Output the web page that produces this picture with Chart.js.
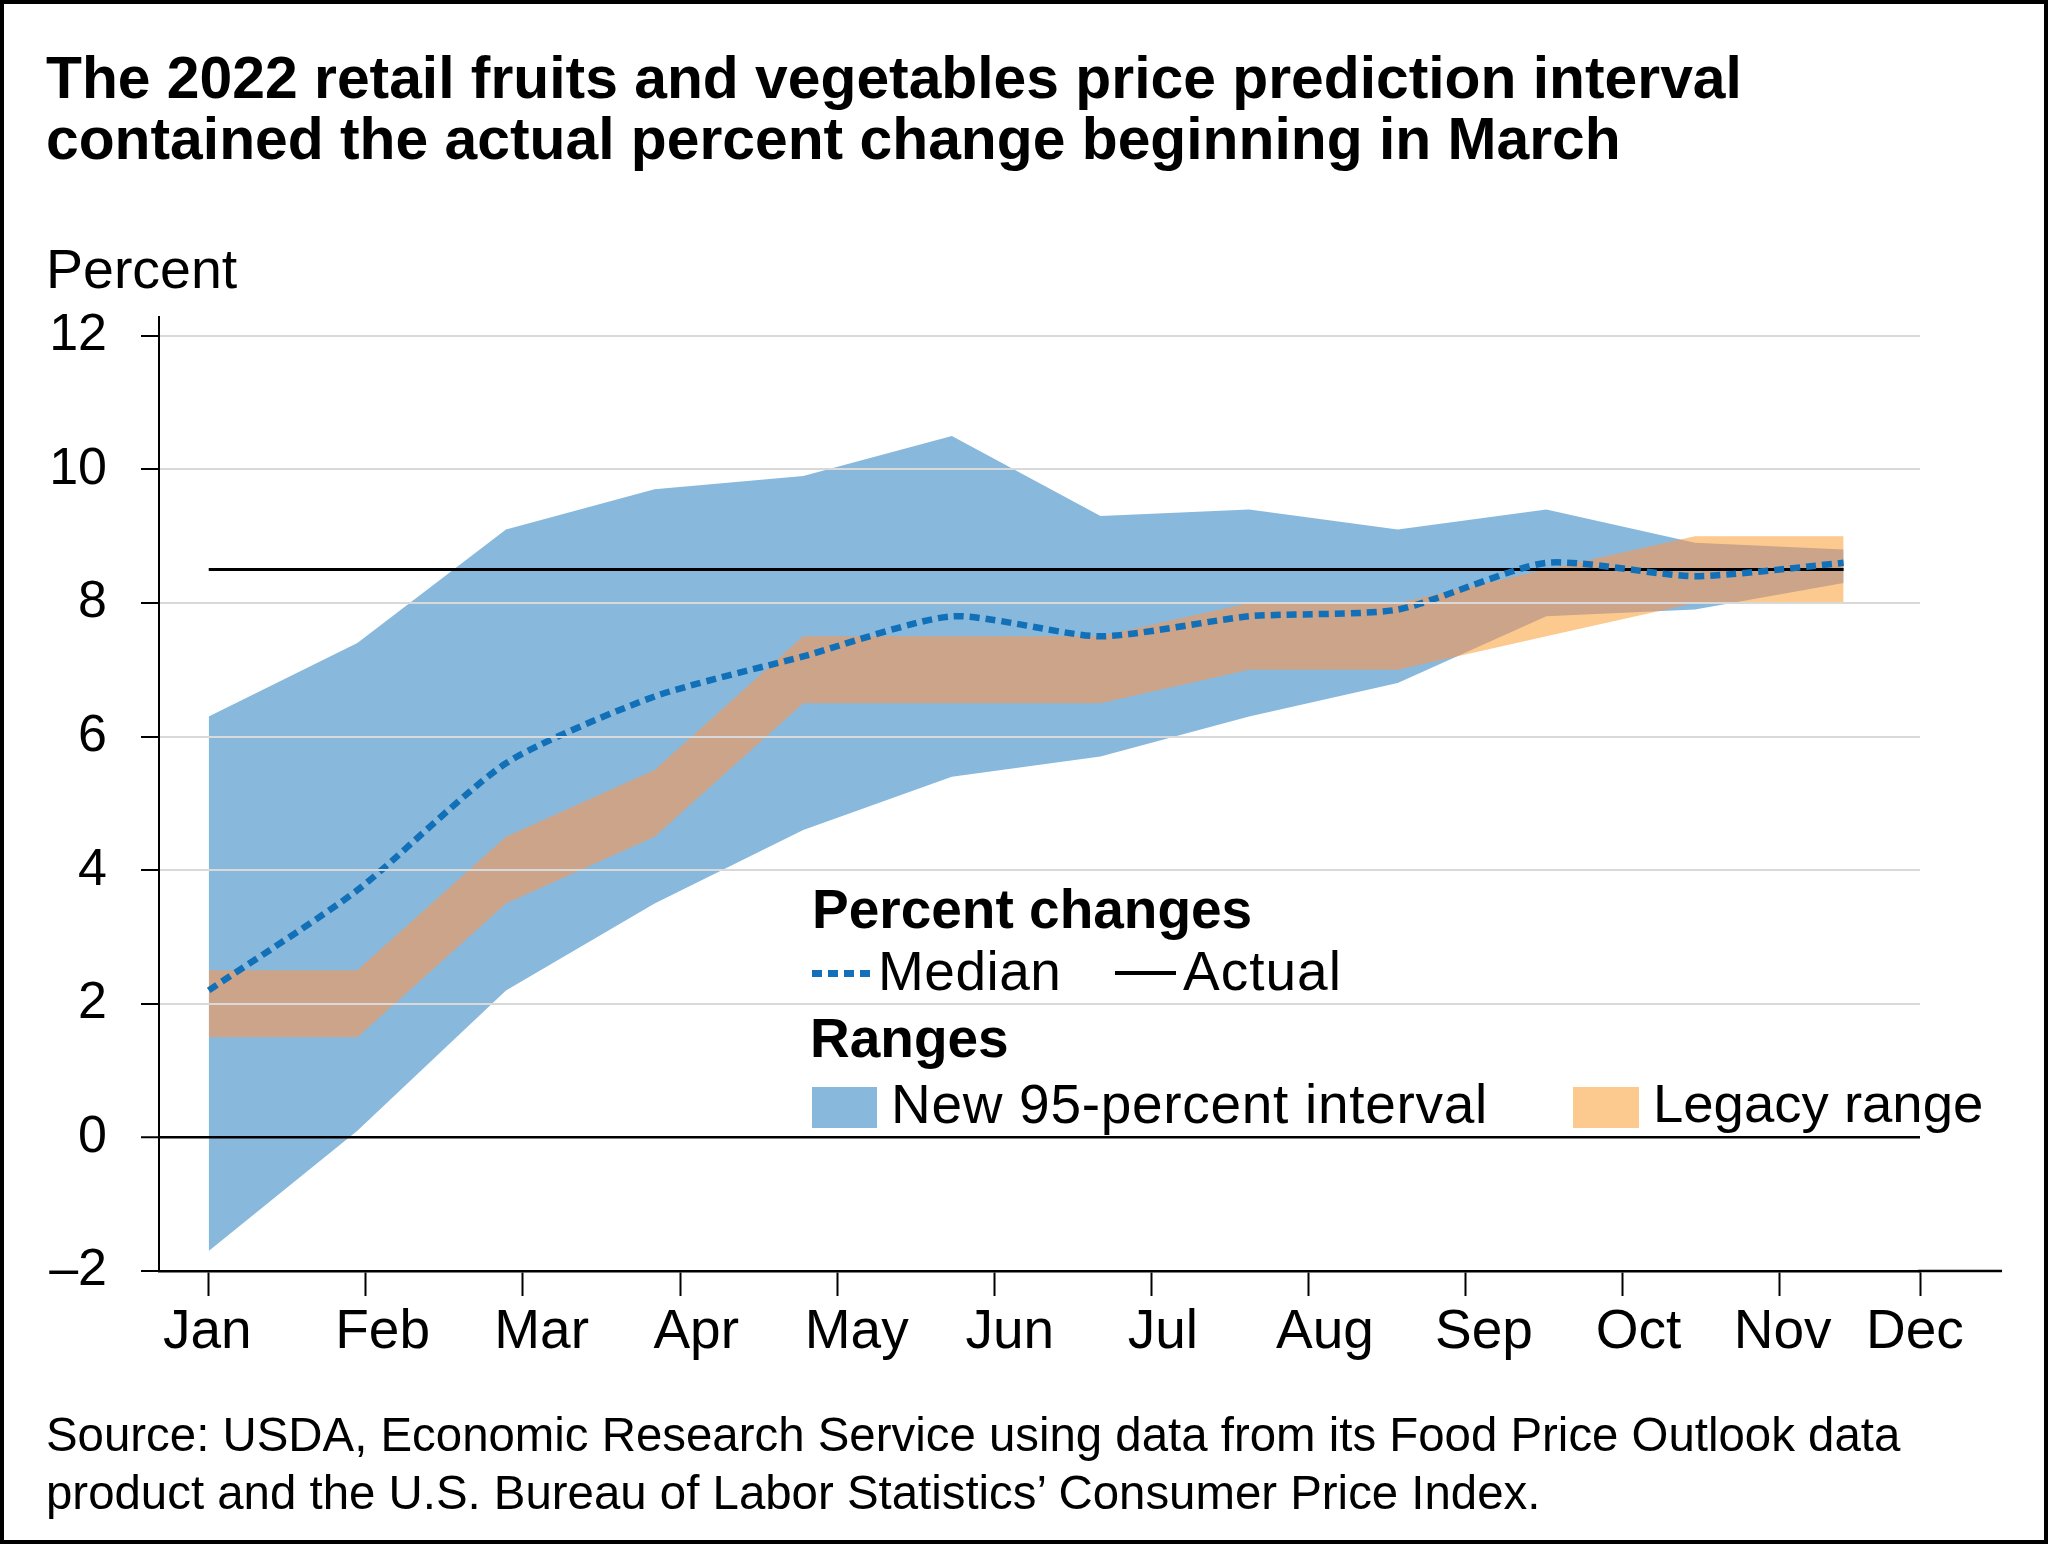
<!DOCTYPE html>
<html><head><meta charset="utf-8">
<script src="https://cdn.jsdelivr.net/npm/chart.js@4.4.1/dist/chart.umd.min.js"></script>
<style>
html,body{margin:0;padding:0;background:#fff;}
#wrap{position:relative;width:2048px;height:1544px;overflow:hidden;background:#fff;font-family:'Liberation Sans',Arial,sans-serif;color:#000;}
#frame{position:absolute;left:0;top:0;width:2048px;height:1544px;box-sizing:border-box;border:4px solid #000;pointer-events:none;z-index:5;}
canvas{position:absolute;left:0;top:0;}
.t{position:absolute;white-space:nowrap;line-height:1;z-index:3;}
.b{font-weight:bold;}
.sw{position:absolute;z-index:3;}
</style></head><body>
<div id="wrap">
<canvas id="c" width="2048" height="1544"></canvas>
<div class="t b" style="left:46px;top:47px;font-size:58.8px;line-height:61px;">The 2022 retail fruits and vegetables price prediction interval<br>contained the actual percent change beginning in March</div>
<div class="t" style="left:46px;top:242px;font-size:55.5px;">Percent</div>

<div class="t b" style="left:812px;top:882px;font-size:55px;">Percent changes</div>
<div class="sw" style="left:812px;top:970px;width:58px;height:7px;background:repeating-linear-gradient(to right,#1170b8 0 10px,transparent 10px 16px);"></div>
<div class="t" style="left:878px;top:944px;font-size:55px;letter-spacing:0.5px;">Median</div>
<div class="sw" style="left:1115px;top:971px;width:61px;height:4px;background:#000;"></div>
<div class="t" style="left:1183px;top:944px;font-size:55px;letter-spacing:1px;">Actual</div>
<div class="t b" style="left:810px;top:1011px;font-size:55px;">Ranges</div>
<div class="sw" style="left:812px;top:1087px;width:65px;height:41px;background:#88b9dd;"></div>
<div class="t" style="left:891px;top:1077px;font-size:55px;letter-spacing:0.7px;">New 95-percent interval</div>
<div class="sw" style="left:1573px;top:1087px;width:66px;height:41px;background:#fcc98e;"></div>
<div class="t" style="left:1653px;top:1077px;font-size:54.5px;">Legacy range</div>

<div class="t" style="left:46px;top:1406px;font-size:47.4px;line-height:58px;">Source: USDA, Economic Research Service using data from its Food Price Outlook data<br>product and the U.S. Bureau of Labor Statistics’ Consumer Price Index.</div>
<div id="frame"></div>
</div>
<script>
// ---- data ----
const MONTHS = ['Jan','Feb','Mar','Apr','May','Jun','Jul','Aug','Sep','Oct','Nov','Dec'];
const MEDIAN = [2.2, 3.7, 5.6, 6.6, 7.2, 7.8, 7.5, 7.8, 7.9, 8.6, 8.4, 8.6];
const ACTUAL = [8.5, 8.5, 8.5, 8.5, 8.5, 8.5, 8.5, 8.5, 8.5, 8.5, 8.5, 8.5];
const NEW_UPPER = [6.3, 7.4, 9.1, 9.7, 9.9, 10.5, 9.3, 9.4, 9.1, 9.4, 8.9, 8.8];
const NEW_LOWER = [-1.7, 0.1, 2.2, 3.5, 4.6, 5.4, 5.7, 6.3, 6.8, 7.8, 7.9, 8.3];
const LEGACY_UPPER = [2.5, 2.5, 4.5, 5.5, 7.5, 7.5, 7.5, 8.0, 8.0, 8.5, 9.0, 9.0];
const LEGACY_LOWER = [1.5, 1.5, 3.5, 4.5, 6.5, 6.5, 6.5, 7.0, 7.0, 7.5, 8.0, 8.0];
const Y_TICKS = [-2, 0, 2, 4, 6, 8, 10, 12];
const Y_TICK_LABELS = ['–2', '0', '2', '4', '6', '8', '10', '12'];

// ---- layout (axis geometry, in data-index units) ----
const MONTH_STEP = 1.0572;
const DEC_TICK = 11.514;
const X_MIN = -0.3345;
const MONTH_TICK_POS = MONTHS.map((m, j) => j === MONTHS.length - 1 ? DEC_TICK : j * MONTH_STEP);
const MONTH_LABEL_POS = [-0.01, 1.17, 2.24, 3.28, 4.36, 5.39, 6.42, 7.51, 8.58, 9.62, 10.59, 11.48];

const BLUE = '#88b9dd', ORANGE = '#fcc98e', TAN = '#cba489', MEDBLUE = '#1170b8';
const FONT = "'Liberation Sans', Arial, sans-serif";

const xy = arr => arr.map((v, i) => ({x: i, y: v}));

const blendPlugin = {
  id: 'bandBlend',
  beforeDatasetDraw(chart) { chart.ctx.globalCompositeOperation = 'source-over'; },
  afterDatasetDraw(chart, args) {
    const id = chart.data.datasets[args.index].id;
    if (id === 'legacyLow') chart.ctx.globalCompositeOperation = 'source-atop';
    else if (id === 'legacyOverlap') chart.ctx.globalCompositeOperation = 'destination-over';
    else chart.ctx.globalCompositeOperation = 'source-over';
  }
};
const axisExt = {
  id: 'axisExt',
  afterDraw(chart) {
    const {ctx, chartArea} = chart;
    ctx.save();
    ctx.globalCompositeOperation = 'source-over';
    ctx.strokeStyle = '#000';
    ctx.lineWidth = 2.5;
    ctx.beginPath();
    ctx.moveTo(chartArea.right - 2, chartArea.bottom);
    ctx.lineTo(chartArea.right + 82, chartArea.bottom);
    ctx.stroke();
    ctx.restore();
  }
};

const band = {pointRadius: 0, borderWidth: 0, tension: 0, borderColor: 'transparent'};

new Chart(document.getElementById('c'), {
  type: 'line',
  data: {
    datasets: [
      Object.assign({id: 'newLow', label: 'New lower', data: xy(NEW_LOWER), fill: false, order: 7}, band),
      Object.assign({id: 'newHigh', label: 'New 95-percent interval', data: xy(NEW_UPPER), fill: 0, backgroundColor: BLUE, order: 6}, band),
      Object.assign({id: 'legacyLow', label: 'Legacy lower', data: xy(LEGACY_LOWER), fill: false, order: 5}, band),
      Object.assign({id: 'legacyOverlap', label: 'Legacy overlap', data: xy(LEGACY_UPPER), fill: 2, backgroundColor: TAN, order: 4}, band),
      Object.assign({id: 'legacyHigh', label: 'Legacy range', data: xy(LEGACY_UPPER), fill: 2, backgroundColor: ORANGE, order: 3}, band),
      {id: 'actual', label: 'Actual', data: xy(ACTUAL), borderColor: '#000', borderWidth: 3, pointRadius: 0, fill: false, tension: 0, order: 2},
      {id: 'median', label: 'Median', data: xy(MEDIAN), borderColor: MEDBLUE, borderWidth: 6.5, borderDash: [10, 6], borderCapStyle: 'butt', pointRadius: 0, fill: false, tension: 0.22, order: 1}
    ]
  },
  options: {
    responsive: false,
    animation: false,
    devicePixelRatio: 1,
    layout: {padding: {left: 0, top: 317, right: 128, bottom: 173}},
    plugins: {
      legend: {display: false},
      tooltip: {enabled: false},
      filler: {drawTime: 'beforeDatasetDraw', propagate: false}
    },
    scales: {
      x: {
        type: 'linear', min: X_MIN, max: DEC_TICK, position: 'bottom', weight: 0,
        afterBuildTicks: s => { s.ticks = MONTH_TICK_POS.map(v => ({value: v})); },
        afterFit: s => { s.height = 25; },
        ticks: {display: false, autoSkip: false, maxRotation: 0},
        grid: {display: true, drawOnChartArea: false, drawTicks: true, tickLength: 25, tickColor: '#000', tickWidth: 2},
        border: {display: true, color: '#000', width: 2.5}
      },
      xLabels: {
        type: 'linear', min: X_MIN, max: DEC_TICK, position: 'bottom', weight: 1,
        afterBuildTicks: s => { s.ticks = MONTH_LABEL_POS.map(v => ({value: v})); },
        afterFit: s => { s.height = 75; },
        ticks: {autoSkip: false, maxRotation: 0, minRotation: 0, padding: 4, color: '#000',
                font: {family: FONT, size: 55}, callback: (v, i) => MONTHS[i]},
        grid: {display: false, drawTicks: false},
        border: {display: false}
      },
      y: {
        min: -2, max: 12.28,
        afterBuildTicks: s => { s.ticks = Y_TICKS.map(v => ({value: v})); },
        afterFit: s => { s.width = 159; },
        ticks: {padding: 34, color: '#000', font: {family: FONT, size: 52}, callback: (v, i) => Y_TICK_LABELS[i]},
        grid: {
          z: 1, drawTicks: true, tickLength: 18, tickColor: '#000', tickWidth: 2,
          color: c => c.tick && c.tick.value === 0 ? '#000' : (c.tick && c.tick.value === -2 ? 'rgba(0,0,0,0)' : '#d9d9d9'),
          lineWidth: c => c.tick && c.tick.value === 0 ? 2.5 : 2
        },
        border: {display: true, color: '#000', width: 2, z: 1}
      }
    }
  },
  plugins: [blendPlugin, axisExt]
});
</script>
</body></html>
